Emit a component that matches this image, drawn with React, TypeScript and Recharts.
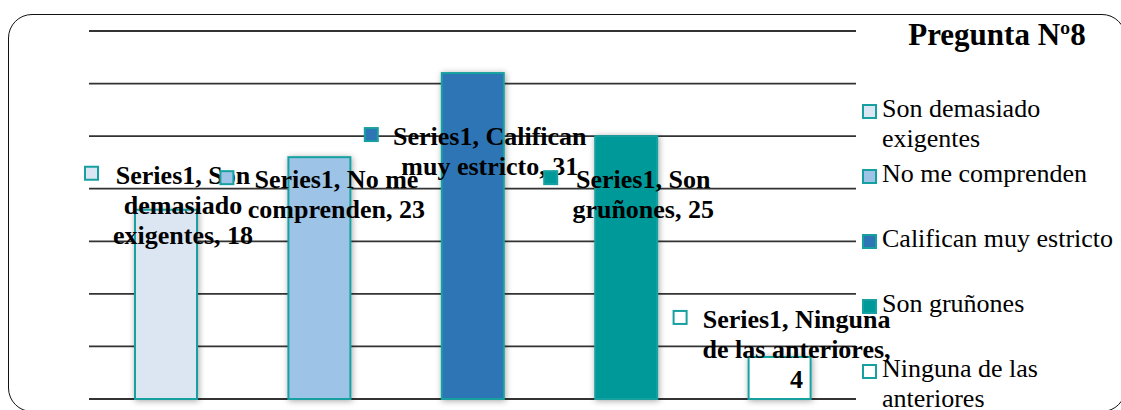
import { Bar, BarChart, CartesianGrid, Cell, LabelList, XAxis, YAxis } from "recharts";

const TITLE = "Pregunta Nº8";
const SERIES_NAME = "Series1";
const CATEGORIES = [
  "Son demasiado exigentes",
  "No me comprenden",
  "Califican muy estricto",
  "Son gruñones",
  "Ninguna de las anteriores",
];
const VALUES = [18, 23, 31, 25, 4];
const Y_TICKS = [0, 5, 10, 15, 20, 25, 30, 35];

const FILLS = ["#dce6f2", "#9dc3e6", "#2e75b6", "#009999", "#ffffff"];
const EDGE = "#17a0a0";
const SERIF = "'Times New Roman', 'Liberation Serif', serif";

// words per line, as the data labels were wrapped in the original
const LABEL_WRAP = [[2, 1, 2], [3, 2], [2, 3], [2, 2], [2, 3, 1]];
// dy: first baseline from bar top, mx: marker left from bar centre
const LABEL_POS = [
  { dy: -26, mx: -81 },
  { dy: 31, mx: -99 },
  { dy: 72, mx: -108 },
  { dy: 52, mx: -82 },
  { dy: -29, mx: -106 },
];

const data = CATEGORIES.map((name, i) => ({ name, value: VALUES[i] }));

function wrapLabel(i: number) {
  const words = `${SERIES_NAME}, ${CATEGORIES[i]}, ${VALUES[i]}`.split(" ");
  const lines: string[] = [];
  let k = 0;
  for (const n of LABEL_WRAP[i]) {
    lines.push(words.slice(k, k + n).join(" "));
    k += n;
  }
  return lines;
}

function DataLabel(props: any) {
  const { x, y, width, value } = props;
  const i = typeof props.index === "number" ? props.index : VALUES.indexOf(Number(value));
  const pos = LABEL_POS[i];
  const cx = Number(x) + Number(width) / 2;
  const base = Number(y) + pos.dy;
  const tx = cx + 17;
  return (
    <g>
      <rect x={cx + pos.mx} y={base - 17} width={13} height={13} fill={FILLS[i]} stroke={EDGE} strokeWidth={2} />
      <text x={tx} y={base} textAnchor="middle" fontFamily={SERIF} fontWeight="bold" fontSize={26} fill="#000">
        {wrapLabel(i).map((line, k) => (
          <tspan key={k} x={tx} dy={k === 0 ? 0 : 30}>
            {line}
          </tspan>
        ))}
      </text>
    </g>
  );
}

function ShadowBar(props: any) {
  const { x, y, width, height, index } = props;
  return (
    <rect
      x={x}
      y={y}
      width={width}
      height={height}
      fill={FILLS[index]}
      stroke={EDGE}
      strokeWidth={2}
      filter="url(#barShadow)"
    />
  );
}

export default function App() {
  return (
    <div style={{ position: "fixed", left: 0, top: 0, width: 1121, height: 410, overflow: "hidden", background: "#fff" }}>
      <svg width={0} height={0} style={{ position: "absolute" }}>
        <defs>
          <filter id="barShadow" x="-30%" y="-10%" width="160%" height="130%">
            <feDropShadow dx={1} dy={1} stdDeviation={3} floodColor="#000" floodOpacity={0.35} />
          </filter>
        </defs>
      </svg>
      <div
        style={{
          position: "absolute",
          left: 8,
          top: 14,
          width: 1116,
          height: 396,
          border: "1.5px solid #111",
          borderRadius: 24,
        }}
      />
      <div style={{ position: "absolute", left: 0, top: 0 }}>
        <BarChart width={1121} height={410} data={data} margin={{ top: 31, right: 265, bottom: 11, left: 89 }}>
          <CartesianGrid vertical={false} stroke="#333" strokeWidth={1.8} />
          <XAxis dataKey="name" hide />
          <YAxis hide domain={[0, 35]} ticks={Y_TICKS} />
          <Bar dataKey="value" barSize={62} isAnimationActive={false} shape={ShadowBar}>
            {data.map((d, i) => (
              <Cell key={d.name} fill={FILLS[i]} />
            ))}
            <LabelList dataKey="value" content={DataLabel} />
          </Bar>
        </BarChart>
      </div>
      <div
        style={{
          position: "absolute",
          left: 897,
          top: 17,
          width: 200,
          textAlign: "center",
          fontFamily: SERIF,
          fontWeight: "bold",
          fontSize: 31,
          lineHeight: "36px",
        }}
      >
        {TITLE}
      </div>
      {CATEGORIES.map((name, i) => (
        <div
          key={name}
          style={{
            position: "absolute",
            left: 862,
            top: 94 + 65 * i,
            width: 262,
            fontFamily: SERIF,
            fontSize: 26,
            lineHeight: "30px",
            color: "#000",
          }}
        >
          <span
            style={{
              position: "absolute",
              left: 0,
              top: 10,
              width: 11,
              height: 11,
              background: FILLS[i],
              border: `2px solid ${EDGE}`,
            }}
          />
          <div style={{ marginLeft: 20, width: 242 }}>{name}</div>
        </div>
      ))}
    </div>
  );
}
